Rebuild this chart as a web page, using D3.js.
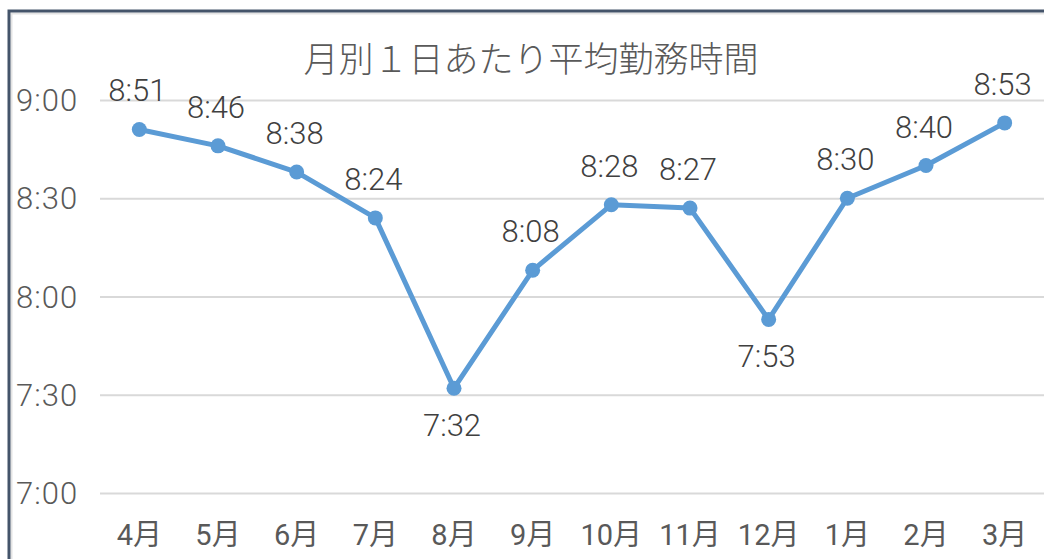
<!DOCTYPE html>
<html>
<head>
<meta charset="utf-8">
<script src="https://cdn.jsdelivr.net/npm/d3@7"></script>
<style>
  body { margin: 0; background: #fff; }
  svg { display: block; font-family: Roboto, "Noto Sans CJK JP", sans-serif; }
</style>
</head>
<body>
<div id="content"></div>
<script>
// chart data
var months = ['4月','5月','6月','7月','8月','9月','10月','11月','12月','1月','2月','3月'];
var minutes = [531, 526, 518, 504, 452, 488, 508, 507, 473, 510, 520, 533]; // 8:51 ... 8:53
var labelBelow = ['8月','12月'];
var yTicks = [420, 450, 480, 510, 540];
var title = '月別１日あたり平均勤務時間';

var svg_width = 1044;
var svg_height = 559;
var plot = {left: 100, right: 1044, top: 100, bottom: 493};
var lineColor = '#5b9bd5';

function fmt(m) {
  var h = Math.floor(m / 60), mm = m % 60;
  return h + ':' + (mm < 10 ? '0' : '') + mm;
}

var svg = d3.select('#content').append('svg')
  .attr('width', svg_width)
  .attr('height', svg_height);

// frame
svg.append('rect').attr('x', 11.5).attr('y', 13.5).attr('width', 1100).attr('height', 600)
  .attr('fill', 'none').attr('stroke', '#e3e3e3').attr('stroke-width', 2);
svg.append('rect').attr('x', 9).attr('y', 11).attr('width', 1100).attr('height', 600)
  .attr('fill', 'none').attr('stroke', '#44546a').attr('stroke-width', 3);

var xScale = d3.scaleBand().domain(months).range([plot.left, plot.right]);
var yScale = d3.scaleLinear().domain([420, 540]).range([plot.bottom, plot.top]);

// gridlines
svg.append('g')
  .attr('transform', 'translate(' + plot.left + ',0)')
  .call(d3.axisLeft(yScale).tickValues(yTicks).tickSize(-(plot.right - plot.left)).tickFormat(''))
  .call(function(g){
    g.select('.domain').remove();
    g.selectAll('line').attr('stroke', '#d9d9d9').attr('stroke-width', 2);
  });

// y labels
svg.append('g').selectAll('text')
  .data(yTicks).enter().append('text')
  .attr('x', 16)
  .attr('y', function(d){ return yScale(d) + 11; })
  .attr('fill', '#595959')
  .style('font-size', '31px')
  .style('font-weight', 300)
  .style('letter-spacing', '1px')
  .text(function(d){ return fmt(d); });

// x labels
svg.append('g').selectAll('text')
  .data(months).enter().append('text')
  .attr('x', function(d){ return xScale(d) + xScale.bandwidth() / 2; })
  .attr('y', 545)
  .attr('text-anchor', 'middle')
  .attr('fill', '#595959')
  .style('font-size', '29px')
  .text(function(d){ return d; });

// line
var line = d3.line()
  .x(function(d, i){ return xScale(months[i]) + xScale.bandwidth() / 2; })
  .y(function(d){ return yScale(d); });

svg.append('path')
  .datum(minutes)
  .attr('d', line)
  .attr('fill', 'none')
  .attr('stroke', lineColor)
  .attr('stroke-width', 5)
  .attr('stroke-linejoin', 'round');

svg.append('g').selectAll('circle')
  .data(minutes).enter().append('circle')
  .attr('cx', function(d, i){ return xScale(months[i]) + xScale.bandwidth() / 2; })
  .attr('cy', function(d){ return yScale(d); })
  .attr('r', 7.5)
  .attr('fill', lineColor);

// data labels
svg.append('g').selectAll('text')
  .data(minutes).enter().append('text')
  .attr('x', function(d, i){ return xScale(months[i]) + xScale.bandwidth() / 2 - 2; })
  .attr('y', function(d, i){
    return labelBelow.includes(months[i]) ? yScale(d) + 48 : yScale(d) - 28;
  })
  .attr('text-anchor', 'middle')
  .attr('fill', '#404040')
  .style('font-size', '31px')
  .style('font-weight', 300)
  .text(function(d){ return fmt(d); });

// title
svg.append('text')
  .attr('x', 531)
  .attr('y', 72)
  .attr('text-anchor', 'middle')
  .attr('fill', '#595959')
  .style('font-family', '"Noto Sans CJK JP", sans-serif')
  .style('font-size', '35px')
  .style('font-weight', 300)
  .text(title);
</script>
</body>
</html>
